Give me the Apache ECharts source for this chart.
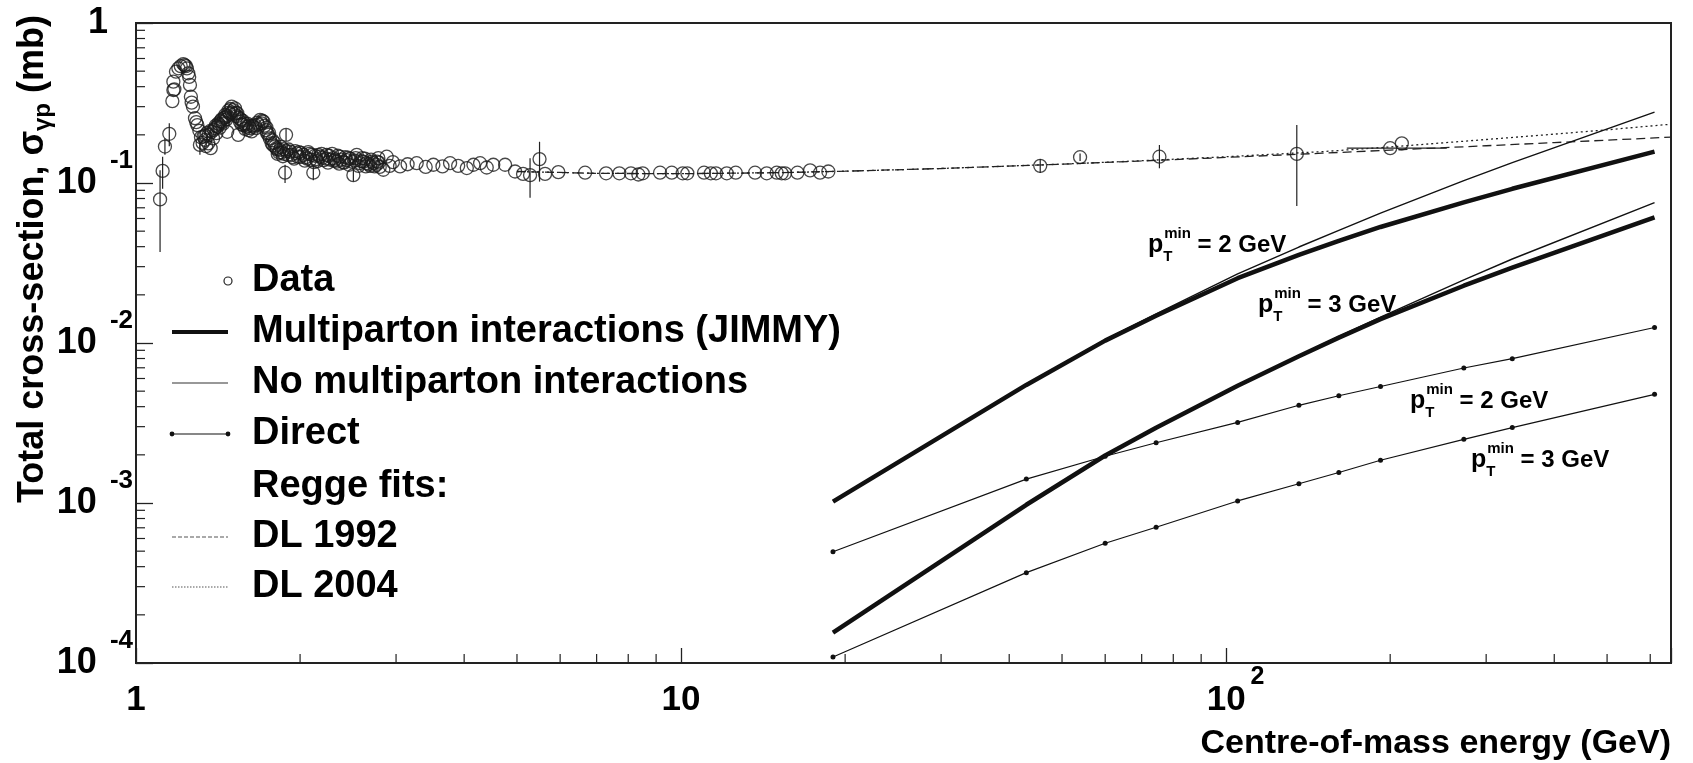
<!DOCTYPE html>
<html><head><meta charset="utf-8">
<script src="https://cdn.jsdelivr.net/npm/echarts@6/dist/echarts.min.js"></script>
<style>html,body{margin:0;padding:0;background:#fff}#c{width:1693px;height:763px}</style>
</head><body><div id="c"></div>
<script>
// ---------- data ----------
const xTickLabels = ['1', '10', '10^2'];                 // 10^0 .. 10^2
const yTickLabels = ['10^-4', '10^-3', '10^-2', '10^-1', '1']; // 10^-4 .. 10^0
const xMinorTicks = [2,3,4,5,6,7,8,9,20,30,40,50,60,70,80,90,200,300,400,500,600];
const yMinorTicks = [2e-4,3e-4,4e-4,5e-4,6e-4,7e-4,8e-4,9e-4,2e-3,3e-3,4e-3,5e-3,6e-3,7e-3,8e-3,9e-3,
                     2e-2,3e-2,4e-2,5e-2,6e-2,7e-2,8e-2,9e-2,0.2,0.3,0.4,0.5,0.6,0.7,0.8,0.9];

// Monte Carlo energies (GeV)
const mcW = [19, 43, 60, 74.4, 105, 136, 161, 192, 273, 335, 611];
const mpiPt2   = [1.02e-3, 5.47e-3, 1.035e-2, 1.48e-2, 2.54e-2, 3.55e-2, 4.35e-2, 5.31e-2, 7.57e-2, 9.2e-2, 0.157];
const noMpiPt2 = [1.03e-3, 5.5e-3, 1.05e-2, 1.52e-2, 2.7e-2, 3.98e-2, 5.06e-2, 6.48e-2, 0.1034, 0.134, 0.277];
const mpiPt3   = [1.55e-4, 9.75e-4, 1.98e-3, 2.95e-3, 5.4e-3, 8.26e-3, 1.08e-2, 1.41e-2, 2.28e-2, 2.96e-2, 6.1e-2];
const noMpiPt3 = [1.55e-4, 9.8e-4, 1.99e-3, 2.97e-3, 5.45e-3, 8.35e-3, 1.1e-2, 1.45e-2, 2.48e-2, 3.35e-2, 7.55e-2];
const directPt2 = [4.96e-4, 1.41e-3, 1.96e-3, 2.38e-3, 3.19e-3, 4.08e-3, 4.68e-3, 5.35e-3, 6.98e-3, 7.98e-3, 1.25e-2];
const directPt3 = [1.09e-4, 3.67e-4, 5.6e-4, 7.05e-4, 1.03e-3, 1.32e-3, 1.55e-3, 1.85e-3, 2.5e-3, 2.96e-3, 4.78e-3];

// Regge fits
const reggeW  = [5, 7, 10, 15, 20, 30, 50, 70, 100, 150, 200, 300, 400, 500, 655];
const dl1992  = [0.118, 0.1149, 0.1143, 0.116, 0.1185, 0.1232, 0.1311, 0.1373, 0.1445, 0.1535, 0.1605, 0.1709, 0.1789, 0.1852, 0.1935];
const dl2004  = [0.118, 0.1149, 0.1143, 0.116, 0.1185, 0.1232, 0.1312, 0.1378, 0.146, 0.157, 0.168, 0.187, 0.202, 0.215, 0.233];

// Measured total cross-section
const dataW = [
 1.107,1.119,1.130,1.151,1.166,1.171,1.171,1.176,1.184,1.196,1.208,1.221,1.228,1.235,1.240,1.247,1.252,1.256,1.261,1.265,
 1.272,1.283,1.290,1.296,1.307,1.316,1.310,1.325,1.330,1.339,1.345,1.357,1.360,1.371,1.377,1.385,1.396,1.400,1.405,1.416,
 1.425,1.430,1.436,1.445,1.457,1.460,1.465,1.470,1.477,1.488,1.490,1.498,1.508,1.519,1.527,1.534,1.540,1.545,1.551,1.562,
 1.570,1.574,1.585,1.596,1.600,1.608,1.619,1.630,1.636,1.653,1.660,1.668,1.689,1.700,1.713,1.722,1.732,1.740,1.749,1.760,
 1.774,1.785,1.799,1.815,1.820,1.837,1.850,1.860,1.865,1.877,1.885,1.890,1.900,1.917,1.940,1.950,1.972,1.990,2.000,2.028,
 2.040,2.060,2.080,2.101,2.115,2.120,2.140,2.160,2.176,2.200,2.210,2.238,2.250,2.270,2.290,2.301,2.320,2.335,2.360,2.367,
 2.400,2.420,2.435,2.460,2.470,2.505,2.520,2.541,2.560,2.575,2.600,2.613,2.640,2.650,2.690,2.700,2.726,2.740,2.770,2.784,
 2.800,2.843,2.884,2.920,2.960,3.051,3.150,3.273,3.400,3.512,3.650,3.769,3.900,4.045,4.160,4.279,4.400,4.524,4.755,4.960,
 5.130,5.284,5.500,5.630,5.955,6.667,7.286,7.705,8.091,8.350,8.506,9.151,9.615,10.07,10.27,11.02,11.34,11.59,12.13,12.60,
 13.67,14.36,14.98,15.30,15.52,16.35,17.25,17.99,18.63,45.6,53.96,75.45,134.8,200,210.1,
 1.810,1.830,1.845,1.870,1.905,1.930,1.960,1.980,2.010,2.050,2.070,2.090,2.130,2.150,2.190,2.230,2.260,2.310,2.345,2.380,
 2.410,2.450,2.490,2.530,2.590,2.630,2.670,2.710,2.760,2.790,1.500,1.515,1.530,1.555,1.580,1.610,1.645,1.675,1.705,1.735,
 1.755,1.780,1.795,1.340,1.350,1.370,1.390,1.410,1.420,1.440,1.450,1.470,1.480];
const dataSigma = [
 0.079,0.119,0.169,0.203,0.325,0.381,0.430,0.385,0.496,0.521,0.538,0.554,0.545,0.538,0.520,0.485,0.460,0.410,0.346,0.318,
 0.300,0.254,0.240,0.230,0.212,0.193,0.173,0.178,0.195,0.186,0.170,0.177,0.200,0.165,0.209,0.190,0.220,0.228,0.205,0.236,
 0.222,0.244,0.250,0.235,0.266,0.258,0.250,0.209,0.283,0.270,0.290,0.300,0.285,0.293,0.275,0.273,0.200,0.255,0.242,0.232,
 0.245,0.230,0.218,0.225,0.235,0.214,0.220,0.210,0.228,0.230,0.220,0.238,0.248,0.236,0.242,0.228,0.214,0.205,0.200,0.190,
 0.177,0.172,0.169,0.162,0.152,0.161,0.155,0.147,0.163,0.116,0.200,0.158,0.150,0.157,0.145,0.142,0.153,0.156,0.145,0.150,
 0.138,0.142,0.152,0.150,0.116,0.135,0.141,0.150,0.146,0.144,0.139,0.150,0.134,0.140,0.152,0.143,0.140,0.136,0.132,0.146,
 0.135,0.145,0.139,0.130,0.142,0.112,0.138,0.150,0.128,0.133,0.143,0.136,0.127,0.133,0.128,0.140,0.133,0.127,0.136,0.143,
 0.126,0.121,0.146,0.128,0.135,0.127,0.131,0.133,0.126,0.130,0.127,0.133,0.128,0.124,0.130,0.133,0.125,0.130,0.130,0.118,
 0.114,0.112,0.141,0.114,0.117,0.116,0.115,0.115,0.115,0.113,0.115,0.116,0.116,0.115,0.115,0.116,0.115,0.115,0.115,0.116,
 0.116,0.115,0.116,0.115,0.115,0.116,0.120,0.116,0.118,0.128,0.145,0.146,0.152,0.165,0.177,
 0.165,0.155,0.168,0.152,0.162,0.150,0.158,0.146,0.154,0.145,0.156,0.140,0.148,0.137,0.152,0.142,0.148,0.138,0.148,0.140,
 0.134,0.144,0.136,0.143,0.137,0.142,0.131,0.136,0.130,0.134,0.276,0.270,0.262,0.250,0.236,0.228,0.224,0.232,0.245,0.222,
 0.205,0.185,0.178,0.198,0.205,0.212,0.215,0.225,0.232,0.240,0.255,0.262,0.275];
// vertical error bars: [W, low, high]
const yErrors = [
 [1.107,0.037,0.120],[1.119,0.092,0.146],[1.130,0.150,0.190],[1.151,0.170,0.236],[1.310,0.150,0.190],
 [1.877,0.100,0.130],[1.885,0.183,0.218],[2.115,0.104,0.128],[2.505,0.102,0.122],
 [5.284,0.081,0.143],[5.500,0.102,0.181],[45.6,0.1155,0.1413],[53.96,0.137,0.153],
 [75.45,0.1236,0.1728],[134.8,0.0718,0.2305]];
// horizontal error bars: [W, sigma, Wlow, Whigh]
const xErrors = [[200, 0.165, 166.5, 254]];

const legendLabels = ['Data', 'Multiparton interactions (JIMMY)', 'No multiparton interactions', 'Direct', 'Regge fits:', 'DL 1992', 'DL 2004'];
const curveLabels = ['2', '3', '2', '3']; // p_T^min values (GeV)

// ---------- chart ----------
const zip = (xs, ys) => xs.map((x, i) => [x, ys[i]]);
const FONT = '"Liberation Sans", Arial, Helvetica, sans-serif';
const INK = '#111';

function tickLabel(lab, isY) {
  const parts = lab.split('^');
  if (parts.length === 1) return isY ? '{b1|' + parts[0] + '}' : '{b|' + parts[0] + '}';
  return isY ? '{b|' + parts[0] + '}{e|' + parts[1] + '}' : '{s| }{b|' + parts[0] + '}{e|' + parts[1] + '}';
}
function fmt(labels, offset, isY) {
  return function (v) {
    const l = Math.log10(v), e = Math.round(l);
    if (Math.abs(l - e) > 1e-6) return '';
    const lab = labels[e + offset];
    return lab ? tickLabel(lab, isY) : '';
  };
}

const chart = echarts.init(document.getElementById('c'), null, {renderer: 'canvas'});

const lineBase = {type: 'line', showSymbol: false, symbol: 'none', z: 3, animation: false};

const option = {
  animation: false,
  backgroundColor: '#fff',
  grid: {left: 136, right: 22, top: 23, bottom: 100, show: true, borderColor: '#222', borderWidth: 2,
         backgroundColor: 'transparent', containLabel: false, outerBoundsMode: 'none'},
  xAxis: {
    type: 'log', logBase: 10, min: 1, max: 655,
    axisLine: {show: true, onZero: false, lineStyle: {color: '#222', width: 2}},
    axisTick: {show: true, inside: true, length: 15, lineStyle: {color: '#222', width: 1.3}},
    minorTick: {show: false}, splitLine: {show: false},
    axisLabel: {
      margin: 2, formatter: fmt(xTickLabels, 0, false), color: '#000',
      rich: {
        b: {fontSize: 35, fontWeight: 'bold', fontFamily: FONT, color: '#000', lineHeight: 70, verticalAlign: 'middle'},
        e: {fontSize: 25, fontWeight: 'bold', fontFamily: FONT, color: '#000', lineHeight: 26, verticalAlign: 'top', padding: [0, 0, 0, 5]},
        s: {width: 19, fontSize: 10, lineHeight: 10}
      }
    }
  },
  yAxis: {
    type: 'log', logBase: 10, min: 1e-4, max: 1,
    axisLine: {show: true, onZero: false, lineStyle: {color: '#222', width: 2}},
    axisTick: {show: true, inside: true, length: 17, lineStyle: {color: '#222', width: 1.3}},
    minorTick: {show: false}, splitLine: {show: false},
    axisLabel: {
      margin: 3, formatter: fmt(yTickLabels, 4, true), color: '#000',
      rich: {
        b: {fontSize: 36, fontWeight: 'bold', fontFamily: FONT, color: '#000', lineHeight: 70, verticalAlign: 'middle'},
        b1: {fontSize: 36, fontWeight: 'bold', fontFamily: FONT, color: '#000', lineHeight: 70, verticalAlign: 'middle', padding: [0, 25, 0, 0]},
        e: {fontSize: 26, fontWeight: 'bold', fontFamily: FONT, color: '#000', lineHeight: 14, verticalAlign: 'top', padding: [0, 0, 0, 13]}
      }
    }
  },
  series: [
    // minor ticks (log decades)
    {type: 'custom', z: 10, silent: true, clip: false, data: xMinorTicks.map(v => [v, 1]),
     encode: {x: 0, y: 1},
     renderItem: (params, api) => {
       const p = api.coord([api.value(0), 1]);
       const cs = params.coordSys, yb = cs.y + cs.height;
       return {type: 'line', shape: {x1: p[0], y1: yb, x2: p[0], y2: yb - 9}, style: {stroke: '#222', lineWidth: 1.2}};
     }},
    {type: 'custom', z: 10, silent: true, clip: false, data: yMinorTicks.map(v => [1, v]),
     encode: {x: 0, y: 1},
     renderItem: (params, api) => {
       const p = api.coord([1, api.value(1)]);
       const cs = params.coordSys;
       return {type: 'line', shape: {x1: cs.x, y1: p[1], x2: cs.x + 9, y2: p[1]}, style: {stroke: '#222', lineWidth: 1.2}};
     }},
    // Regge fits
    Object.assign({}, lineBase, {name: 'DL 1992', data: zip(reggeW, dl1992),
      lineStyle: {color: '#222', width: 1.3, type: [9, 5]}}),
    Object.assign({}, lineBase, {name: 'DL 2004', data: zip(reggeW, dl2004),
      lineStyle: {color: '#222', width: 1.3, type: [2, 3]}}),
    // MPI / no-MPI
    Object.assign({}, lineBase, {name: 'JIMMY pT2', data: zip(mcW, mpiPt2), lineStyle: {color: INK, width: 4.5}}),
    Object.assign({}, lineBase, {name: 'JIMMY pT3', data: zip(mcW, mpiPt3), lineStyle: {color: INK, width: 4.5}}),
    Object.assign({}, lineBase, {name: 'noMPI pT2', data: zip(mcW, noMpiPt2), lineStyle: {color: INK, width: 1.4}}),
    Object.assign({}, lineBase, {name: 'noMPI pT3', data: zip(mcW, noMpiPt3), lineStyle: {color: INK, width: 1.4}}),
    // Direct
    Object.assign({}, lineBase, {name: 'Direct pT2', data: zip(mcW, directPt2), showSymbol: true, symbol: 'circle', symbolSize: 5,
      itemStyle: {color: INK}, lineStyle: {color: INK, width: 1.2}}),
    Object.assign({}, lineBase, {name: 'Direct pT3', data: zip(mcW, directPt3), showSymbol: true, symbol: 'circle', symbolSize: 5,
      itemStyle: {color: INK}, lineStyle: {color: INK, width: 1.2}}),
    // error bars
    {type: 'custom', z: 4, silent: true, data: yErrors, encode: {x: 0, y: [1, 2]},
     renderItem: (params, api) => {
       const a = api.coord([api.value(0), api.value(1)]);
       const b = api.coord([api.value(0), api.value(2)]);
       return {type: 'line', shape: {x1: a[0], y1: a[1], x2: b[0], y2: b[1]}, style: {stroke: '#222', lineWidth: 1.2}};
     }},
    {type: 'custom', z: 4, silent: true, data: xErrors, encode: {x: [2, 3], y: 1},
     renderItem: (params, api) => {
       const a = api.coord([api.value(2), api.value(1)]);
       const b = api.coord([api.value(3), api.value(1)]);
       return {type: 'line', shape: {x1: a[0], y1: a[1], x2: b[0], y2: b[1]}, style: {stroke: '#222', lineWidth: 1.2}};
     }},
    // data points
    {type: 'scatter', name: 'Data', z: 5, data: zip(dataW, dataSigma), symbol: 'circle', symbolSize: 13,
     itemStyle: {color: 'rgba(0,0,0,0)', borderColor: '#1a1a1a', borderWidth: 1.3}}
  ],
  graphic: []
};

// legend (drawn as graphics)
const legY = [281, 332, 383, 434, 487, 537, 587];
const lx0 = 172, lx1 = 228, tx = 252;
const g = [];
legendLabels.forEach((t, i) => {
  g.push({type: 'text', x: tx, y: legY[i], style: {text: t, fontSize: 38, fontWeight: 'bold', fontFamily: FONT,
          fill: '#000', align: 'left', verticalAlign: 'middle'}});
});
g.push({type: 'circle', shape: {cx: 228, cy: legY[0], r: 4}, style: {fill: 'none', stroke: '#222', lineWidth: 1.2}});
g.push({type: 'line', shape: {x1: lx0, y1: legY[1], x2: lx1, y2: legY[1]}, style: {stroke: INK, lineWidth: 4}});
g.push({type: 'line', shape: {x1: lx0, y1: legY[2], x2: lx1, y2: legY[2]}, style: {stroke: '#333', lineWidth: 1.2}});
g.push({type: 'line', shape: {x1: lx0, y1: legY[3], x2: lx1, y2: legY[3]}, style: {stroke: INK, lineWidth: 1.2}});
g.push({type: 'circle', shape: {cx: lx0, cy: legY[3], r: 2.4}, style: {fill: INK}});
g.push({type: 'circle', shape: {cx: lx1, cy: legY[3], r: 2.4}, style: {fill: INK}});
g.push({type: 'line', shape: {x1: lx0, y1: legY[5], x2: lx1, y2: legY[5]}, style: {stroke: '#555', lineWidth: 1.1, lineDash: [4, 2]}});
g.push({type: 'line', shape: {x1: lx0, y1: legY[6], x2: lx1, y2: legY[6]}, style: {stroke: '#555', lineWidth: 1.1, lineDash: [1.5, 1.5]}});

// p_T^min annotations
const annPos = [[1148, 245], [1258, 305], [1410, 401], [1471, 460]];
const annRich = {
  p: {fontSize: 25, fontWeight: 'bold', fontFamily: FONT, color: '#000', lineHeight: 38, verticalAlign: 'middle'},
  t: {fontSize: 15, fontWeight: 'bold', fontFamily: FONT, color: '#000', width: 0, lineHeight: 18, verticalAlign: 'bottom'},
  m: {fontSize: 15, fontWeight: 'bold', fontFamily: FONT, color: '#000', lineHeight: 20, verticalAlign: 'top', padding: [0, 0, 0, 1]},
  r: {fontSize: 24, fontWeight: 'bold', fontFamily: FONT, color: '#000', lineHeight: 38, verticalAlign: 'middle'}
};
annPos.forEach((p, i) => {
  g.push({type: 'text', x: p[0], y: p[1], style: {text: '{p|p}{t|T}{m|min}{r| = ' + curveLabels[i] + ' GeV}',
          rich: annRich, align: 'left', verticalAlign: 'middle', fill: '#000'}});
});

// axis titles
g.push({type: 'text', x: 1671, y: 744, style: {text: 'Centre-of-mass energy (GeV)', fontSize: 34, fontWeight: 'bold',
        fontFamily: FONT, fill: '#000', align: 'right', verticalAlign: 'middle'}});
g.push({type: 'text', x: 33, y: 259, rotation: Math.PI / 2, style: {
        text: '{a|Total cross-section, σ}{s|γp}{a| (mb)}', align: 'center', verticalAlign: 'middle', fill: '#000',
        rich: {
          a: {fontSize: 36, fontWeight: 'bold', fontFamily: FONT, color: '#000', lineHeight: 44, verticalAlign: 'middle'},
          s: {fontSize: 24, fontWeight: 'bold', fontFamily: FONT, color: '#000', lineHeight: 20, verticalAlign: 'bottom'}
        }}});

option.graphic = g;
chart.setOption(option);
</script>
</body></html>
